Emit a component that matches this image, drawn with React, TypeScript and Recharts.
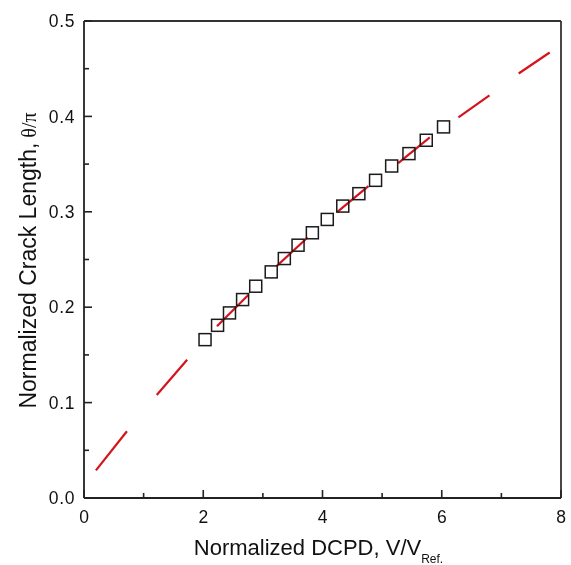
import React from "react";
import { ComposedChart, XAxis, YAxis, Scatter, Line } from "recharts";

// Measured data (squares)
const markerX = [2.03, 2.24, 2.44, 2.66, 2.88, 3.14, 3.36, 3.59, 3.83, 4.08, 4.34, 4.61, 4.89, 5.16, 5.45, 5.74, 6.03];
const markerY = [0.166, 0.181, 0.194, 0.208, 0.222, 0.237, 0.251, 0.265, 0.278, 0.292, 0.306, 0.319, 0.333, 0.348, 0.361, 0.375, 0.389];

// Fit curve, drawn as dashes (start/end of each visible dash)
const dashStartX = [0.2, 1.22, 2.23, 3.23, 4.25, 5.27, 6.28, 7.29];
const dashStartY = [0.029, 0.108, 0.18, 0.243, 0.3, 0.351, 0.399, 0.445];
const dashEndX = [0.72, 1.73, 2.76, 3.75, 4.77, 5.8, 6.8, 7.81];
const dashEndY = [0.07, 0.145, 0.213, 0.273, 0.327, 0.378, 0.422, 0.467];

const xTicks = [0, 1, 2, 3, 4, 5, 6, 7, 8];
const yTicks = [0, 0.05, 0.1, 0.15, 0.2, 0.25, 0.3, 0.35, 0.4, 0.45, 0.5];

const markers = markerX.map((x, i) => ({ x, y: markerY[i] }));
const dashes = dashStartX.map((x, i) => [
  { x, y: dashStartY[i] },
  { x: dashEndX[i], y: dashEndY[i] },
]);

const FONT = "'Liberation Sans', Arial, sans-serif";
const AX = "#222";
const TICK_FS = 17.5;

const XTick = (props: any) => {
  const { x, y, payload, index } = props;
  const major = index % 2 === 0;
  return (
    <g>
      <line x1={x} x2={x} y1={y} y2={y - (major ? 8 : 5)} stroke={AX} strokeWidth={1.6} />
      {major && (
        <text x={x} y={y + 25} textAnchor="middle" fontSize={TICK_FS} fill="#111" fontFamily={FONT}>
          {payload.value}
        </text>
      )}
    </g>
  );
};

const YTick = (props: any) => {
  const { x, y, payload, index } = props;
  const major = index % 2 === 0;
  return (
    <g>
      <line x1={x} x2={x + (major ? 8 : 5)} y1={y} y2={y} stroke={AX} strokeWidth={1.6} />
      {major && (
        <text
          x={x - 9}
          y={y + 6.2}
          textAnchor="end"
          fontSize={TICK_FS}
          letterSpacing={0.6}
          fill="#111"
          fontFamily={FONT}
        >
          {Number(payload.value).toFixed(1)}
        </text>
      )}
    </g>
  );
};

const XLabel = (props: any) => {
  const { viewBox } = props;
  const cx = viewBox.x + viewBox.width / 2 - 4;
  const by = viewBox.y + 57;
  return (
    <text x={cx} y={by} textAnchor="middle" fontSize={22} fill="#111" fontFamily={FONT}>
      Normalized DCPD, V/V
      <tspan fontSize={12} dy={8}>Ref.</tspan>
    </text>
  );
};

const YLabel = (props: any) => {
  const { viewBox } = props;
  const cy = viewBox.y + viewBox.height / 2 + 1;
  const bx = viewBox.x + viewBox.width - 48;
  return (
    <text
      transform={`translate(${bx},${cy}) rotate(-90)`}
      x={0}
      y={0}
      textAnchor="middle"
      fontSize={23}
      fill="#111"
      fontFamily={FONT}
    >
      Normalized Crack Length,
      <tspan fontSize={20} fontFamily="'Liberation Serif', 'DejaVu Serif', serif"> θ/π</tspan>
    </text>
  );
};

const Square = (props: any) => {
  const { cx, cy } = props;
  if (cx == null || cy == null) return null;
  return <rect x={cx - 6} y={cy - 6} width={12} height={12} fill="none" stroke="#1a1a1a" strokeWidth={1.5} />;
};

export default function App() {
  return (
    <div style={{ position: "fixed", left: 8, top: 8 }}>
      <ComposedChart
        width={563}
        height={557}
        margin={{ top: 8, right: 5, bottom: 37, left: 36 }}
        style={{ overflow: "visible" }}
      >
        <XAxis
          dataKey="x"
          type="number"
          domain={[0, 8]}
          ticks={xTicks}
          interval={0}
          height={30}
          tickSize={0}
          tickMargin={0}
          tickLine={false}
          axisLine={{ stroke: AX, strokeWidth: 1.8 }}
          tick={<XTick />}
          label={<XLabel />}
        />
        <YAxis
          dataKey="y"
          type="number"
          domain={[0, 0.5]}
          ticks={yTicks}
          interval={0}
          width={40}
          tickSize={0}
          tickMargin={0}
          tickLine={false}
          axisLine={{ stroke: AX, strokeWidth: 1.8 }}
          tick={<YTick />}
          label={<YLabel />}
        />
        <XAxis
          xAxisId="top"
          orientation="top"
          type="number"
          domain={[0, 8]}
          height={5}
          tick={false}
          tickLine={false}
          axisLine={{ stroke: "#333", strokeWidth: 1.8 }}
        />
        <YAxis
          yAxisId="right"
          orientation="right"
          type="number"
          domain={[0, 0.5]}
          width={5}
          tick={false}
          tickLine={false}
          axisLine={{ stroke: "#333", strokeWidth: 1.8 }}
        />
        <Scatter data={markers} dataKey="y" shape={<Square />} isAnimationActive={false} />
        {dashes.map((seg, i) => (
          <Line
            key={i}
            data={seg}
            dataKey="y"
            type="linear"
            stroke="#d4141c"
            strokeWidth={2.2}
            dot={false}
            activeDot={false}
            isAnimationActive={false}
          />
        ))}
      </ComposedChart>
    </div>
  );
}
